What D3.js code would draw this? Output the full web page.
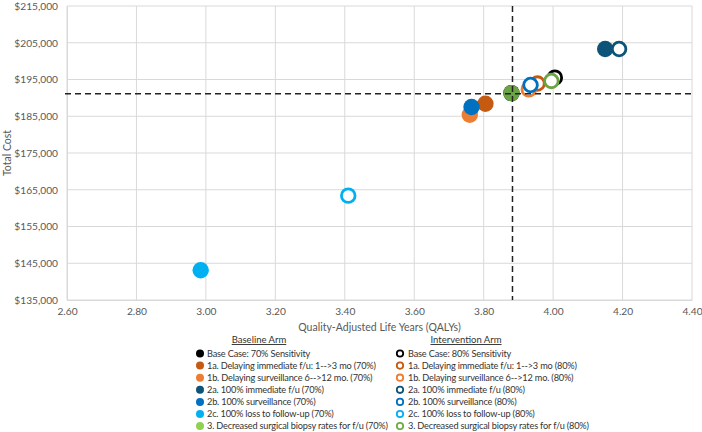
<!DOCTYPE html>
<html>
<head>
<meta charset="utf-8">
<script src="https://cdn.jsdelivr.net/npm/d3@7"></script>
<style>
  html, body { margin: 0; padding: 0; background: #fff; }
  svg { display: block; font-family: Lato, "Liberation Sans", sans-serif; }
</style>
</head>
<body>
<svg id="chart" width="702" height="432"></svg>
<script>
// ---- data ----
const scenarioKeys = ["base", "1a", "1b", "2a", "2b", "2c", "3"];
const baselineLabels = [
  "Base Case: 70% Sensitivity",
  "1a. Delaying immediate f/u: 1-->3 mo (70%)",
  "1b. Delaying surveillance 6-->12 mo. (70%)",
  "2a. 100% immediate f/u (70%)",
  "2b. 100% surveillance (70%)",
  "2c. 100% loss to follow-up (70%)",
  "3. Decreased surgical biopsy rates for f/u (70%)"
];
const interventionLabels = [
  "Base Case: 80% Sensitivity",
  "1a. Delaying immediate f/u: 1-->3 mo (80%)",
  "1b. Delaying surveillance 6-->12 mo. (80%)",
  "2a. 100% immediate f/u (80%)",
  "2b. 100% surveillance (80%)",
  "2c. 100% loss to follow-up (80%)",
  "3. Decreased surgical biopsy rates for f/u (80%)"
];
const qaly70 = [3.88, 3.805, 3.76, 4.15, 3.765, 2.985, 3.88];
const cost70 = [191300, 188400, 185400, 203300, 187500, 143100, 191300];
const qaly80 = [4.005, 3.955, 3.93, 4.19, 3.935, 3.41, 3.995];
const cost80 = [195500, 193900, 192300, 203300, 193500, 163400, 194600];
const xTicks = [2.6, 2.8, 3.0, 3.2, 3.4, 3.6, 3.8, 4.0, 4.2, 4.4];
const yTicks = [135000, 145000, 155000, 165000, 175000, 185000, 195000, 205000, 215000];
const refQaly = 3.883;     // dashed reference line (base case 70%)
const refCost = 191100;

// ---- styles ----
const colors = ["#000000", "#C55A11", "#ED7D31", "#0E5478", "#0070C0", "#00B0F0", "#6AA443"];
const legendColors70 = ["#000000", "#C55A11", "#ED7D31", "#0E5478", "#0070C0", "#00B0F0", "#92D050"];
const legendColors80 = ["#000000", "#C55A11", "#ED7D31", "#0E5478", "#0070C0", "#00B0F0", "#70AD47"];

const svg = d3.select("#chart");
const L = 67, R = 692, T = 6, B = 300;

const x = d3.scaleLinear().domain([2.6, 4.4]).range([L, R]);
const y = d3.scaleLinear().domain([135000, 215000]).range([B, T]);

// gridlines
const grid = svg.append("g");
grid.selectAll("line.v").data(xTicks).join("line")
  .attr("x1", d => x(d)).attr("x2", d => x(d))
  .attr("y1", T).attr("y2", B)
  .attr("stroke", "#d9d9d9").attr("stroke-width", 1);
grid.selectAll("line.h").data(yTicks).join("line")
  .attr("x1", L).attr("x2", R)
  .attr("y1", d => y(d)).attr("y2", d => y(d))
  .attr("stroke", "#d9d9d9").attr("stroke-width", 1);

// axes
const xAxis = d3.axisBottom(x).tickValues(xTicks).tickFormat(d3.format(".2f")).tickSize(0).tickPadding(8);
const yAxis = d3.axisLeft(y).tickValues(yTicks).tickFormat(d => "$" + d3.format(",")(d)).tickSize(0).tickPadding(9);
const gx = svg.append("g").attr("transform", `translate(0,${B})`).call(xAxis);
const gy = svg.append("g").attr("transform", `translate(${L},0)`).call(yAxis);
[gx, gy].forEach(g => {
  g.select(".domain").attr("stroke", "#d9d9d9");
  g.selectAll("text").attr("fill", "#595959").style("font-size", "10.2px").style("font-family", "Lato, sans-serif");
});

// axis titles
svg.append("text").attr("x", (L + R) / 2).attr("y", 331)
  .attr("text-anchor", "middle").attr("fill", "#595959").style("font-size", "10.5px")
  .text("Quality-Adjusted Life Years (QALYs)");
svg.append("text").attr("transform", `translate(11,${(T + B) / 2}) rotate(-90)`)
  .attr("text-anchor", "middle").attr("fill", "#595959").style("font-size", "10.5px")
  .text("Total Cost");

// points: drawn in series order (70 then 80 per scenario)
const pts = [];
scenarioKeys.forEach((k, i) => {
  pts.push({ q: qaly70[i], c: cost70[i], color: colors[i], open: false });
  pts.push({ q: qaly80[i], c: cost80[i], color: colors[i], open: true });
});
svg.append("g").selectAll("circle").data(pts).join("circle")
  .attr("cx", d => x(d.q)).attr("cy", d => y(d.c))
  .attr("r", d => d.open ? 6.8 : 8.2)
  .attr("fill", d => d.open ? "#fff" : d.color)
  .attr("stroke", d => d.open ? d.color : "none")
  .attr("stroke-width", d => d.open ? 2.8 : 0);

// dashed reference lines
svg.append("line").attr("x1", L - 2).attr("x2", R).attr("y1", y(refCost)).attr("y2", y(refCost))
  .attr("stroke", "#222").attr("stroke-width", 1.5).attr("stroke-dasharray", "6,4");
svg.append("line").attr("x1", x(refQaly)).attr("x2", x(refQaly)).attr("y1", T).attr("y2", B)
  .attr("stroke", "#222").attr("stroke-width", 1.5).attr("stroke-dasharray", "6,4");

// legend
const lg = svg.append("g").style("font-size", "9.2px").style("letter-spacing", "-0.18px");
lg.append("text").attr("x", 259).attr("y", 343).attr("text-anchor", "middle")
  .attr("fill", "#333").style("font-size", "9.5px").style("letter-spacing", "0px").style("text-decoration", "underline").text("Baseline Arm");
lg.append("text").attr("x", 466).attr("y", 343).attr("text-anchor", "middle")
  .attr("fill", "#333").style("font-size", "9.5px").style("letter-spacing", "0px").style("text-decoration", "underline").text("Intervention Arm");
const rowY = i => 353.5 + i * 12.1;
const left = lg.append("g");
left.selectAll("circle").data(baselineLabels).join("circle")
  .attr("cx", 200).attr("cy", (d, i) => rowY(i)).attr("r", 4)
  .attr("fill", (d, i) => legendColors70[i]);
left.selectAll("text").data(baselineLabels).join("text")
  .attr("x", 207).attr("y", (d, i) => rowY(i)).attr("dy", "0.35em")
  .attr("fill", "#333").text(d => d);
const right = lg.append("g");
right.selectAll("circle").data(interventionLabels).join("circle")
  .attr("cx", 400).attr("cy", (d, i) => rowY(i)).attr("r", 3.2)
  .attr("fill", "#fff").attr("stroke", (d, i) => legendColors80[i]).attr("stroke-width", 1.8);
right.selectAll("text").data(interventionLabels).join("text")
  .attr("x", 408).attr("y", (d, i) => rowY(i)).attr("dy", "0.35em")
  .attr("fill", "#333").text(d => d);
</script>
</body>
</html>
